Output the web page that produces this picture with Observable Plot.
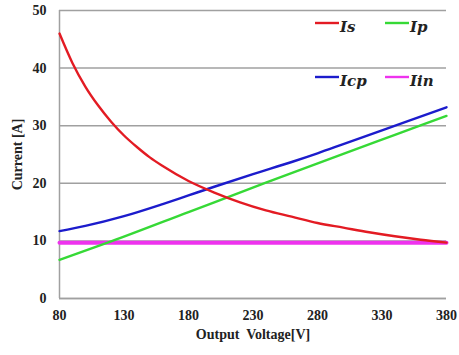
<!DOCTYPE html>
<html>
<head>
<meta charset="utf-8">
<script src="https://cdn.jsdelivr.net/npm/d3@7"></script>
<script src="https://cdn.jsdelivr.net/npm/@observablehq/plot@0.6"></script>
<style>
  html, body { margin: 0; padding: 0; background: #fff; }
  #wrap { position: relative; width: 459px; height: 355px; }
  #legend { position: absolute; left: 0; top: 0; pointer-events: none; }
</style>
</head>
<body>
<div id="wrap"></div>
<script>
// ---- data ----
const seriesNames = ["Is", "Ip", "Icp", "Iin"];
const seriesColors = ["#e31b23", "#36d936", "#1c1ccc", "#ee33ee"];

const isVoltage = [80, 90, 100, 110, 120, 130, 140, 150, 160, 180, 200, 220, 240, 260, 280, 300, 320, 340, 360, 380];
const isCurrent = [46, 40.9, 36.8, 33.5, 30.7, 28.3, 26.3, 24.5, 23, 20.4, 18.4, 16.7, 15.3, 14.2, 13.1, 12.3, 11.5, 10.8, 10.2, 9.7];

const ipVoltage = [80, 120, 180, 240, 300, 340, 380];
const ipCurrent = [6.7, 9.9, 15.0, 20.1, 25.1, 28.4, 31.7];

const icpVoltage = [80, 100, 130, 160, 180, 200, 230, 260, 280, 300, 330, 350, 380];
const icpCurrent = [11.7, 12.6, 14.3, 16.4, 17.9, 19.4, 21.6, 23.7, 25.2, 26.8, 29.2, 30.8, 33.2];

const iinVoltage = [80, 380];
const iinCurrent = [9.7, 9.7];

const xTicks = [80, 130, 180, 230, 280, 330, 380];
const yTicks = [0, 10, 20, 30, 40, 50];

const xLabel = "Output  Voltage[V]";
const yLabel = "Current [A]";

// ---- build table ----
function rows(name, xs, ys) { return xs.map((v, i) => ({series: name, v, i: ys[i]})); }
const data = [
  ...rows("Iin", iinVoltage, iinCurrent),
  ...rows("Ip", ipVoltage, ipCurrent),
  ...rows("Icp", icpVoltage, icpCurrent),
  ...rows("Is", isVoltage, isCurrent)
];
const colorOf = Object.fromEntries(seriesNames.map((s, k) => [s, seriesColors[k]]));

const font = "'Liberation Serif', 'Times New Roman', serif";

const chart = Plot.plot({
  width: 459,
  height: 355,
  marginLeft: 59,
  marginRight: 13,
  marginTop: 10,
  marginBottom: 57,
  style: {fontFamily: font, fontSize: "14px", fontWeight: "bold", color: "#222", background: "#fff"},
  x: {domain: [80, 380]},
  y: {domain: [0, 50]},
  marks: [
    Plot.gridY(yTicks, {stroke: "#a0a0a0", strokeOpacity: 1, strokeWidth: 1.5}),
    Plot.ruleX([80], {stroke: "#a0a0a0", strokeWidth: 1.5}),
    Plot.ruleY([0], {stroke: "#a0a0a0", strokeWidth: 1.5}),
    Plot.axisX({ticks: xTicks, tickSize: 0, tickPadding: 12, fontSize: 14, fontWeight: "bold",
      label: xLabel, labelAnchor: "center", labelOffset: 40, labelArrow: "none"}),
    Plot.axisY({ticks: yTicks, tickSize: 0, tickPadding: 13, fontSize: 14, fontWeight: "bold",
      label: yLabel, labelAnchor: "center", labelOffset: 47, labelArrow: "none"}),
    Plot.line(data.filter(d => d.series === "Iin"), {x: "v", y: "i", stroke: colorOf["Iin"], strokeWidth: 4}),
    Plot.line(data.filter(d => d.series !== "Iin"), {x: "v", y: "i", z: "series",
      stroke: d => colorOf[d.series], strokeWidth: 2.4, curve: "monotone-x"})
  ]
});

const wrap = document.getElementById("wrap");
wrap.appendChild(chart);

// ---- legend overlay (inside plot, top right) ----
const legendPos = [[315, 23], [385, 23], [315, 77], [385, 77]];
const legendOrder = ["Is", "Ip", "Icp", "Iin"];
const lg = d3.select(wrap).append("svg").attr("id", "legend").attr("width", 459).attr("height", 355);
legendOrder.forEach((name, k) => {
  const [lx, ly] = legendPos[k];
  lg.append("line").attr("x1", lx).attr("x2", lx + 24).attr("y1", ly).attr("y2", ly)
    .attr("stroke", colorOf[name]).attr("stroke-width", 2.4);
  lg.append("text").attr("x", lx + 25).attr("y", ly + 9).text(name)
    .attr("font-family", "'DejaVu Serif', serif").attr("font-style", "italic").attr("font-weight", "bold")
    .attr("font-size", 15).attr("fill", "#222");
});
</script>
</body>
</html>
